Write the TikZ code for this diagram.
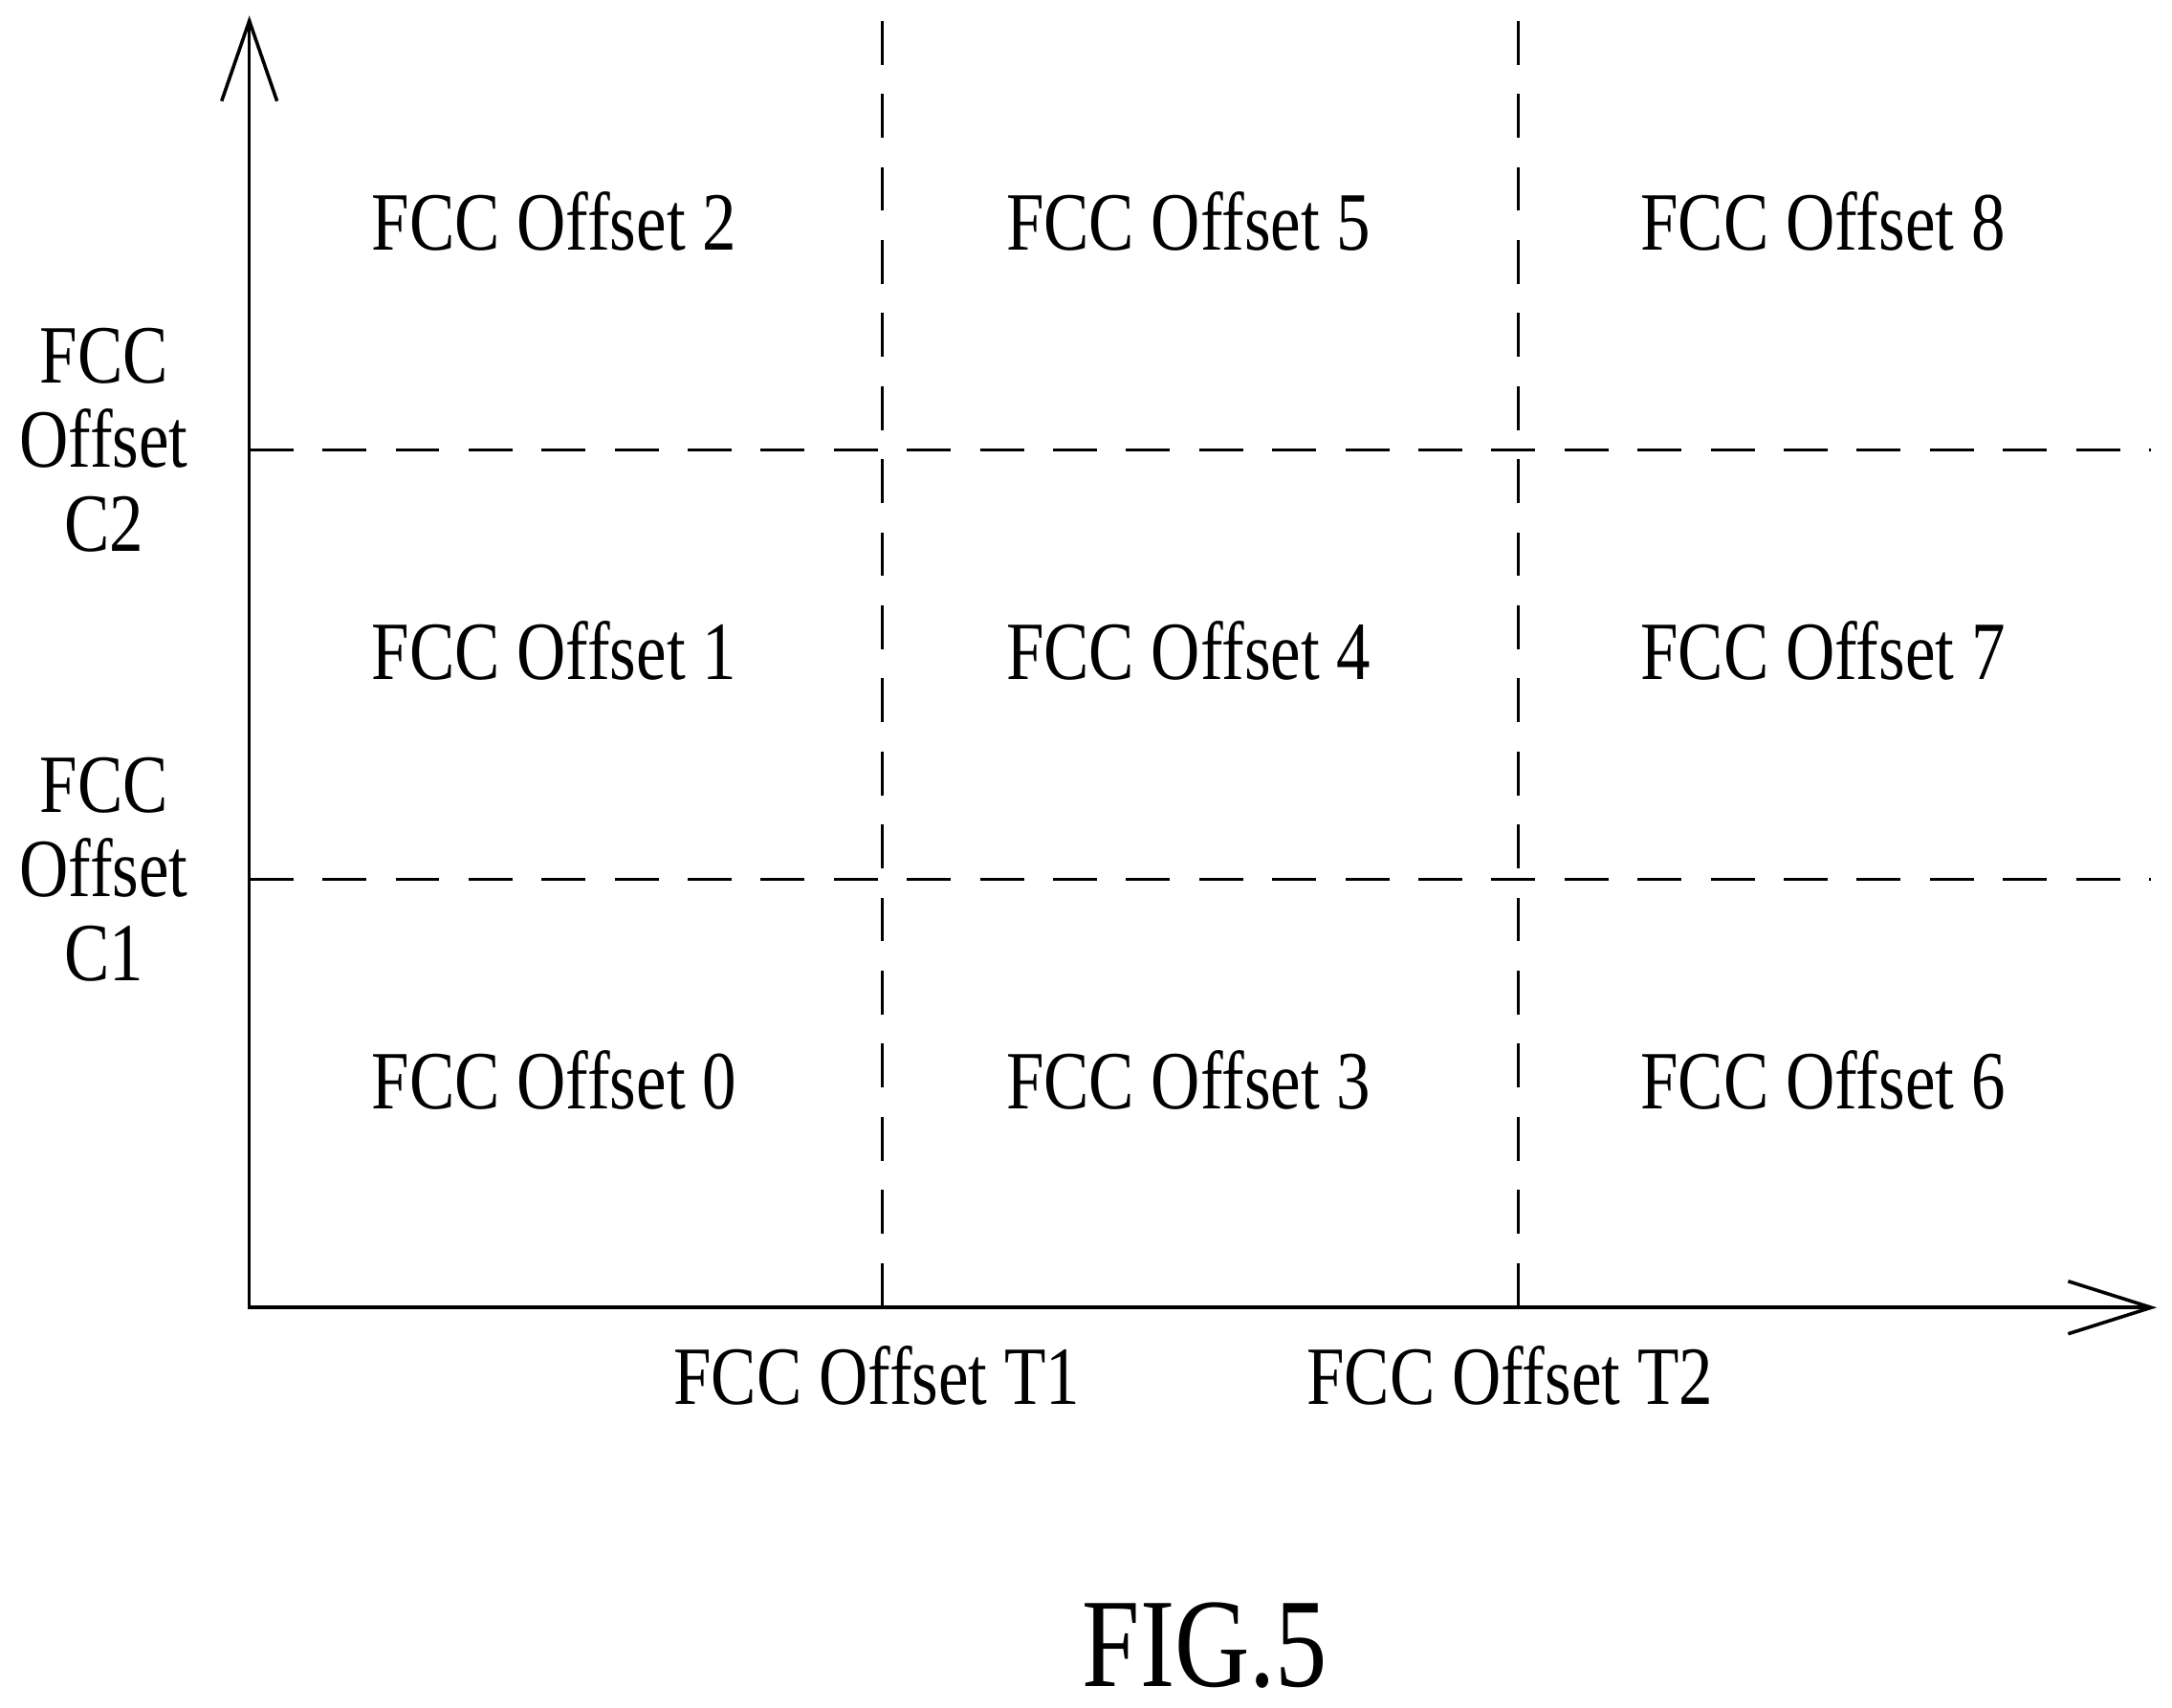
\documentclass[tikz,border=0pt]{standalone}
\usepackage{fontspec}
\setmainfont{Liberation Serif}[FakeStretch=0.82]
\begin{document}
\begin{tikzpicture}[x=0.01cm,y=-0.01cm,
  lbl/.style={font=\fontsize{17}{17.3}\selectfont, inner sep=0pt},
  grid/.style={dash pattern=on 9pt off 6pt, line width=0.6pt},
  ax/.style={line width=0.7pt}]
\useasboundingbox (0,0) rectangle (1568,1233);
\coordinate (O) at (180,944);
\coordinate (Ytop) at (180,15);
\coordinate (Xend) at (1553,944);
\draw[ax] (Ytop) -- (O) -- (Xend);
\draw[ax] (160,73) -- (Ytop) -- (200,73);
\draw[ax] (1493,925) -- (Xend) -- (1493,963);
\draw[grid] (637,15) -- (637,944);
\draw[grid] (1096,15) -- (1096,944);
\draw[grid] (180,325) -- (1553,325);
\draw[grid] (180,635) -- (1553,635);
\foreach \c/\x in {0/400,1/858,2/1316}{
 \foreach \r/\y in {0/780,1/470,2/160}{
  \pgfmathtruncatemacro\n{\c*3+\r}
  \node[lbl] (cell\n) at (\x,\y) {FCC Offset \n};
 }}
\node[lbl, align=center] (c2) at (75,318) {FCC\\Offset\\C2};
\node[lbl, align=center] (c1) at (75,628) {FCC\\Offset\\C1};
\node[lbl] (t1) at (633,993) {FCC Offset T1};
\node[lbl] (t2) at (1090,993) {FCC Offset T2};
\node[inner sep=0pt, font=\fontsize{26}{30}\selectfont] (fig) at (870,1188) {FIG.5};
\end{tikzpicture}
\end{document}
